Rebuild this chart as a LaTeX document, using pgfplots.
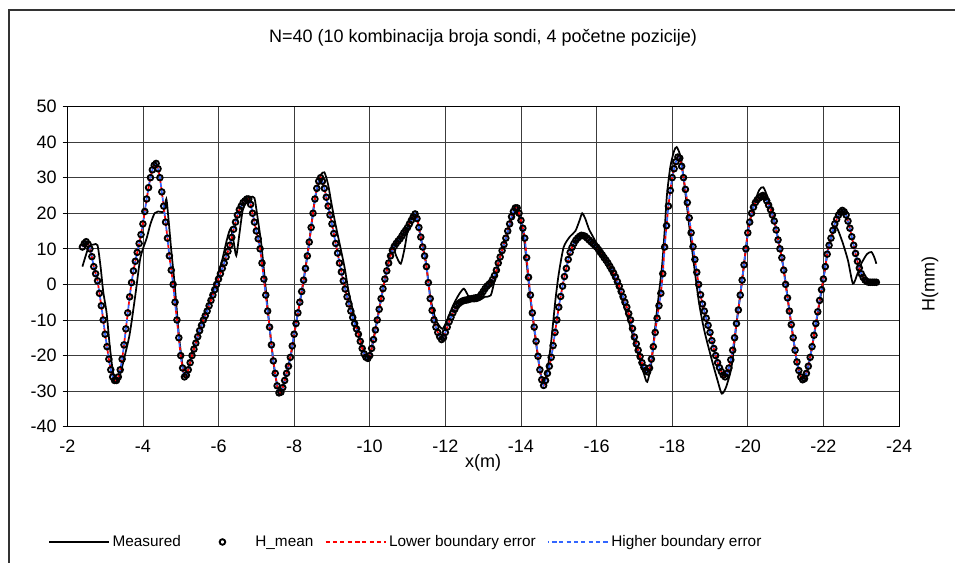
\documentclass[border=0pt]{standalone}
\usepackage{fontspec}
\setmainfont{Liberation Sans}
\usepackage{pgfplots}
\pgfplotsset{compat=1.18}
\usepackage{pgfplotstable}
\definecolor{hbblue}{RGB}{51,102,255}
\definecolor{lbred}{RGB}{255,0,0}
\definecolor{gridc}{RGB}{60,60,60}
\pgfplotsset{myimg/.style={legend image code/.code={\path (0pt,0pt) (45pt,0pt);\draw[mark repeat=2,mark phase=2,##1] plot coordinates {(0pt,0pt) (22.5pt,0pt) (45pt,0pt)};}}}

\pgfplotstableread{
x H
-2.40 10.5
-2.45 11.5
-2.50 12
-2.55 11.3
-2.60 10
-2.65 7.8
-2.70 5
-2.75 3
-2.80 1
-2.85 -2.5
-2.90 -6
-2.95 -10
-3.00 -14
-3.05 -17.5
-3.10 -21
-3.15 -24
-3.20 -26
-3.25 -27
-3.30 -27
-3.35 -26
-3.40 -24
-3.45 -21
-3.50 -17
-3.55 -12.5
-3.60 -8
-3.65 -3.5
-3.70 0.5
-3.75 3.8
-3.80 6.5
-3.85 9
-3.90 11.5
-3.95 14
-4.00 17
-4.05 20.5
-4.10 24
-4.15 27.2
-4.20 30
-4.25 32.2
-4.30 33.5
-4.35 34
-4.40 32.5
-4.45 30
-4.50 26
-4.55 22
-4.60 17.5
-4.65 13
-4.70 8
-4.75 4
-4.80 0
-4.85 -5
-4.90 -10
-4.95 -15
-5.00 -20
-5.05 -23.5
-5.10 -26
-5.15 -25.5
-5.20 -24
-5.25 -22
-5.30 -20
-5.35 -18.2
-5.40 -16.5
-5.45 -14.7
-5.50 -13
-5.55 -11.5
-5.60 -10
-5.65 -8.8
-5.70 -7.5
-5.75 -6
-5.80 -4.5
-5.85 -3
-5.90 -1.5
-5.95 0
-6.00 1.5
-6.05 3
-6.10 4.5
-6.15 6
-6.20 7.7
-6.25 9.3
-6.30 11
-6.35 13.2
-6.40 15.5
-6.45 17.5
-6.50 19.5
-6.55 21
-6.60 22
-6.65 23
-6.70 23.5
-6.75 24
-6.80 24
-6.85 22.5
-6.90 20
-6.95 17.5
-7.00 15
-7.05 12.8
-7.10 10
-7.15 6
-7.20 1.5
-7.25 -3
-7.30 -7.5
-7.35 -12
-7.40 -17
-7.45 -21.5
-7.50 -25
-7.55 -28.5
-7.60 -30.5
-7.65 -30.3
-7.70 -29
-7.75 -27
-7.80 -25
-7.85 -23
-7.90 -20.5
-7.95 -17.3
-8.00 -14
-8.05 -11
-8.10 -8
-8.15 -5
-8.20 -2
-8.25 1.2
-8.30 4.5
-8.35 8
-8.40 11.9
-8.45 16
-8.50 20
-8.55 24
-8.60 27
-8.65 29
-8.70 30
-8.75 29
-8.80 27
-8.85 24.5
-8.90 22
-8.95 19.5
-9.00 17
-9.05 14.3
-9.10 11.5
-9.15 8.8
-9.20 6
-9.25 3.5
-9.30 1
-9.35 -1.3
-9.40 -3.5
-9.45 -5.5
-9.50 -7.5
-9.55 -9.3
-9.60 -11
-9.65 -12.5
-9.70 -14
-9.75 -16
-9.80 -18
-9.85 -19.5
-9.90 -20.5
-9.95 -20.8
-10.00 -20
-10.05 -18
-10.10 -15.5
-10.15 -12.8
-10.20 -10
-10.25 -7
-10.30 -4
-10.35 -1.2
-10.40 1.5
-10.45 3.8
-10.50 6
-10.55 8
-10.60 9.6
-10.65 10.7
-10.70 11.5
-10.75 12.2
-10.80 12.8
-10.85 13.6
-10.90 14.5
-10.95 15.2
-11.00 16
-11.05 17
-11.10 18
-11.15 19
-11.20 19.8
-11.25 18.5
-11.30 16
-11.35 13.3
-11.40 10.5
-11.45 8
-11.50 5
-11.55 0.5
-11.60 -4
-11.65 -7.3
-11.70 -10
-11.75 -12
-11.80 -13.5
-11.85 -14.7
-11.90 -15.5
-11.95 -15
-12.00 -13.5
-12.05 -12
-12.10 -10.5
-12.15 -9.2
-12.20 -8
-12.25 -7
-12.30 -6
-12.35 -5.4
-12.40 -5
-12.45 -4.7
-12.50 -4.5
-12.55 -4.4
-12.60 -4.3
-12.65 -4.1
-12.70 -4
-12.75 -3.9
-12.80 -3.8
-12.85 -3.7
-12.90 -3.5
-12.95 -2.8
-13.00 -2
-13.05 -1.2
-13.10 -0.5
-13.15 0
-13.20 0.5
-13.25 1.4
-13.30 2.5
-13.35 4
-13.40 6
-13.45 7.7
-13.50 9.5
-13.55 11.2
-13.60 13
-13.65 15
-13.70 17
-13.75 19
-13.80 20.5
-13.85 21.5
-13.90 21.5
-13.95 20
-14.00 18
-14.05 15.8
-14.10 13
-14.15 7.5
-14.20 2
-14.25 -3
-14.30 -8
-14.35 -12
-14.40 -16
-14.45 -20.2
-14.50 -24
-14.55 -26.8
-14.60 -28.4
-14.65 -27
-14.70 -25
-14.75 -23
-14.80 -20.5
-14.85 -17.2
-14.90 -13.5
-14.95 -10
-15.00 -6.4
-15.05 -3.4
-15.10 -0.5
-15.15 2.2
-15.20 4.5
-15.25 7
-15.30 9
-15.35 10.4
-15.40 11.5
-15.45 12.4
-15.50 13
-15.55 13.5
-15.60 13.8
-15.65 13.7
-15.70 13.5
-15.75 13
-15.80 12.5
-15.85 12
-15.90 11.5
-15.95 11
-16.00 10.5
-16.05 9.8
-16.10 9
-16.15 8.3
-16.20 7.5
-16.25 6.8
-16.30 6
-16.35 5.1
-16.40 4.2
-16.45 3.2
-16.50 2.1
-16.55 0.8
-16.60 -0.5
-16.65 -2
-16.70 -3.5
-16.75 -5
-16.80 -6.4
-16.85 -8.2
-16.90 -10
-16.95 -12.4
-17.00 -14.8
-17.05 -16.7
-17.10 -18.5
-17.15 -20.3
-17.20 -22
-17.25 -23.3
-17.30 -24.2
-17.35 -24.6
-17.40 -23.5
-17.45 -21
-17.50 -17.5
-17.55 -13.5
-17.60 -9.5
-17.65 -6
-17.70 -2.5
-17.75 3
-17.80 10.5
-17.85 16.5
-17.90 22
-17.95 26.4
-18.00 30
-18.05 32.5
-18.10 34.5
-18.15 35.8
-18.20 35.5
-18.25 33.2
-18.30 30
-18.35 26.7
-18.40 23
-18.45 18.7
-18.50 14.5
-18.55 10.6
-18.60 7
-18.65 3.4
-18.70 0
-18.75 -2.9
-18.80 -5.5
-18.85 -7.5
-18.90 -9.5
-18.95 -11.5
-19.00 -13.5
-19.05 -15.8
-19.10 -18
-19.15 -20
-19.20 -22
-19.25 -23.4
-19.30 -24.5
-19.35 -25.5
-19.40 -26
-19.45 -25
-19.50 -23.5
-19.55 -21.2
-19.60 -18.5
-19.65 -15
-19.70 -11
-19.75 -7.2
-19.80 -3
-19.85 1.2
-19.90 5.5
-19.95 10
-20.00 14.5
-20.05 17.5
-20.10 20
-20.15 21.7
-20.20 23
-20.25 23.8
-20.30 24.3
-20.35 24.7
-20.40 25
-20.45 24.5
-20.50 23.5
-20.55 22.3
-20.60 21
-20.65 19.5
-20.70 17.8
-20.75 15.3
-20.80 12.5
-20.85 10
-20.90 7.5
-20.95 4
-21.00 0
-21.05 -3.8
-21.10 -7.5
-21.15 -11.3
-21.20 -15
-21.25 -18.5
-21.30 -21.8
-21.35 -24.2
-21.40 -26
-21.45 -26.8
-21.50 -26.5
-21.55 -25
-21.60 -23
-21.65 -20.5
-21.70 -17.5
-21.75 -14.3
-21.80 -11
-21.85 -7.7
-21.90 -4.5
-21.95 -1.5
-22.00 1.5
-22.05 5
-22.10 8.5
-22.15 11
-22.20 13
-22.25 15.2
-22.30 17
-22.35 18.3
-22.40 19.5
-22.45 20.3
-22.50 20.8
-22.55 20.4
-22.60 19.5
-22.65 17.8
-22.70 15.8
-22.75 13.4
-22.80 11
-22.85 8.7
-22.90 6.5
-22.95 4.6
-23.00 3
-23.05 2
-23.10 1.2
-23.15 0.8
-23.20 0.6
-23.25 0.6
-23.30 0.6
-23.35 0.6
-23.40 0.6
}\hmean

\pgfplotstableread{
x H
-2.40 5
-2.50 8.5
-2.58 10.8
-2.70 11.2
-2.80 11
-2.88 5
-2.95 -2
-3.04 -8
-3.12 -17
-3.20 -24
-3.28 -27.5
-3.38 -26
-3.50 -21
-3.65 -14
-3.80 -3
-3.92 6.7
-4.00 10
-4.10 13
-4.20 17
-4.31 20
-4.40 20.5
-4.55 20.5
-4.62 24
-4.68 18
-4.75 9.6
-4.84 0
-4.95 -14
-5.05 -23
-5.11 -26
-5.20 -24
-5.35 -18
-5.59 -10
-5.75 -5.5
-5.94 1.1
-6.10 7
-6.22 12.5
-6.32 15.7
-6.40 12
-6.47 8.1
-6.55 14
-6.64 20.8
-6.75 23.5
-6.85 24.5
-6.95 24.3
-7.03 19
-7.13 11.5
-7.22 2
-7.35 -12
-7.48 -24
-7.61 -30.7
-7.75 -27
-7.92 -19.5
-8.05 -11
-8.23 -0.3
-8.40 12
-8.55 24
-8.70 30.5
-8.80 31.5
-8.90 28
-9.00 22
-9.11 16.1
-9.33 5
-9.45 -2.5
-9.64 -11
-9.80 -17.5
-9.94 -21
-10.05 -18
-10.21 -9.2
-10.43 3
-10.60 10.5
-10.70 8
-10.82 5.8
-10.92 10
-11.04 17
-11.22 20
-11.35 13
-11.48 6.7
-11.61 -4
-11.75 -10
-11.92 -12.5
-12.05 -10
-12.20 -6
-12.35 -3
-12.49 -1.2
-12.62 -3.5
-12.75 -4.8
-12.89 -4.5
-13.05 -3.5
-13.20 -3.1
-13.30 1
-13.42 6.7
-13.60 13
-13.75 18.5
-13.87 20.8
-13.97 18.5
-14.08 13
-14.17 4
-14.25 -4
-14.39 -15.7
-14.50 -24
-14.60 -28
-14.70 -24
-14.80 -16
-14.91 -4.5
-15.00 3
-15.13 10.5
-15.30 13.5
-15.44 15
-15.55 18
-15.62 20
-15.70 18.5
-15.80 15.5
-15.90 13.5
-16.00 11.5
-16.14 9
-16.30 6
-16.50 1
-16.65 -3.5
-16.80 -8.5
-16.95 -14
-17.10 -19.5
-17.25 -25
-17.34 -27.4
-17.45 -22
-17.59 -8
-17.73 5
-17.80 15
-17.86 25
-17.95 33
-18.05 37.5
-18.12 38.6
-18.22 36
-18.30 30
-18.39 22
-18.50 12
-18.70 -4.5
-18.85 -13
-19.05 -21.3
-19.20 -27
-19.31 -30.7
-19.42 -29
-19.57 -23.2
-19.70 -11
-19.80 -3
-19.88 3.9
-20.01 15.2
-20.15 22
-20.30 26.5
-20.41 27.3
-20.52 24.5
-20.72 17
-20.94 4.9
-21.11 -8.2
-21.29 -21.3
-21.40 -26
-21.46 -26.5
-21.58 -24
-21.73 -15.7
-21.95 -1.7
-22.12 9.6
-22.21 13.3
-22.34 16.1
-22.50 12
-22.65 6.7
-22.78 0.2
-22.90 3
-23.00 5.8
-23.15 8.5
-23.27 9.1
-23.35 7.5
-23.40 5.8
}\measured

\begin{document}
\begin{tikzpicture}
\useasboundingbox (0pt,0pt) rectangle (716.25pt,-422.25pt);
\draw[line width=0.9pt, black!80] (6.75pt,-430pt) -- (6.75pt,-7.5pt) -- (725pt,-7.5pt);
\begin{axis}[
  at={(50.475pt,-79.875pt)}, anchor=north west,
  scale only axis, width=623.8pt, height=240.15pt,
  x dir=reverse,
  xmin=-24, xmax=-2, ymin=-40, ymax=50,
  xtick={-2,-4,-6,-8,-10,-12,-14,-16,-18,-20,-22,-24},
  xticklabels={-2,-4,-6,-8,-10,-12,-14,-16,-18,-20,-22,-24},
  ytick={-40,-30,-20,-10,0,10,20,30,40,50},
  yticklabels={-40,-30,-20,-10,0,10,20,30,40,50},
  grid=major,
  major grid style={gridc, line width=0.6pt},
  axis line style={black, line width=0.7pt},
  x tick style={draw=none},
  y tick style={black, line width=0.6pt},
  tick align=outside, major tick length=3.5pt,
  xtick pos=bottom, ytick pos=left,
  tick label style={font=\fontsize{13.5}{16}\selectfont},
  xticklabel style={yshift=-3pt},
  yticklabel style={xshift=-1pt},
  legend columns=4,
  legend style={at={(-0.028,-0.36)}, anchor=west, draw=none, fill=none,
    font=\fontsize{11.5}{13}\selectfont,
    nodes={inner xsep=2pt},
    /tikz/every even column/.append style={column sep=6.5pt}},
  legend cell align=left,
  myimg,
]
\addplot[black, line width=1.3pt, smooth, tension=0.4] table[x=x,y=H]{\measured};
\addlegendentry{Measured}
\addplot[only marks, mark=o, mark size=2.1pt, mark options={black, line width=1.4pt}, myimg] table[x=x,y=H]{\hmean};
\addlegendentry{H\_mean}
\addplot[lbred, line width=1.3pt, dash pattern=on 3pt off 2.5pt, smooth, tension=0.4] table[x=x,y=H]{\hmean};
\addlegendentry{Lower boundary error}
\addplot[hbblue, line width=1.3pt, dash pattern=on 3pt off 2.5pt, dash phase=2.5pt, smooth, tension=0.4] table[x=x,y=H]{\hmean};
\addlegendentry{Higher boundary error}
\end{axis}
\node[font=\fontsize{13.5}{16}\selectfont] at (362.25pt,-28.5pt) {N=40 (10 kombinacija broja sondi, 4 početne pozicije)};
\node[font=\fontsize{13.5}{16}\selectfont] at (362.25pt,-347.25pt) {x(m)};
\node[font=\fontsize{13.5}{16}\selectfont, rotate=90] at (697.5pt,-213pt) {H(mm)};
\end{tikzpicture}
\end{document}
